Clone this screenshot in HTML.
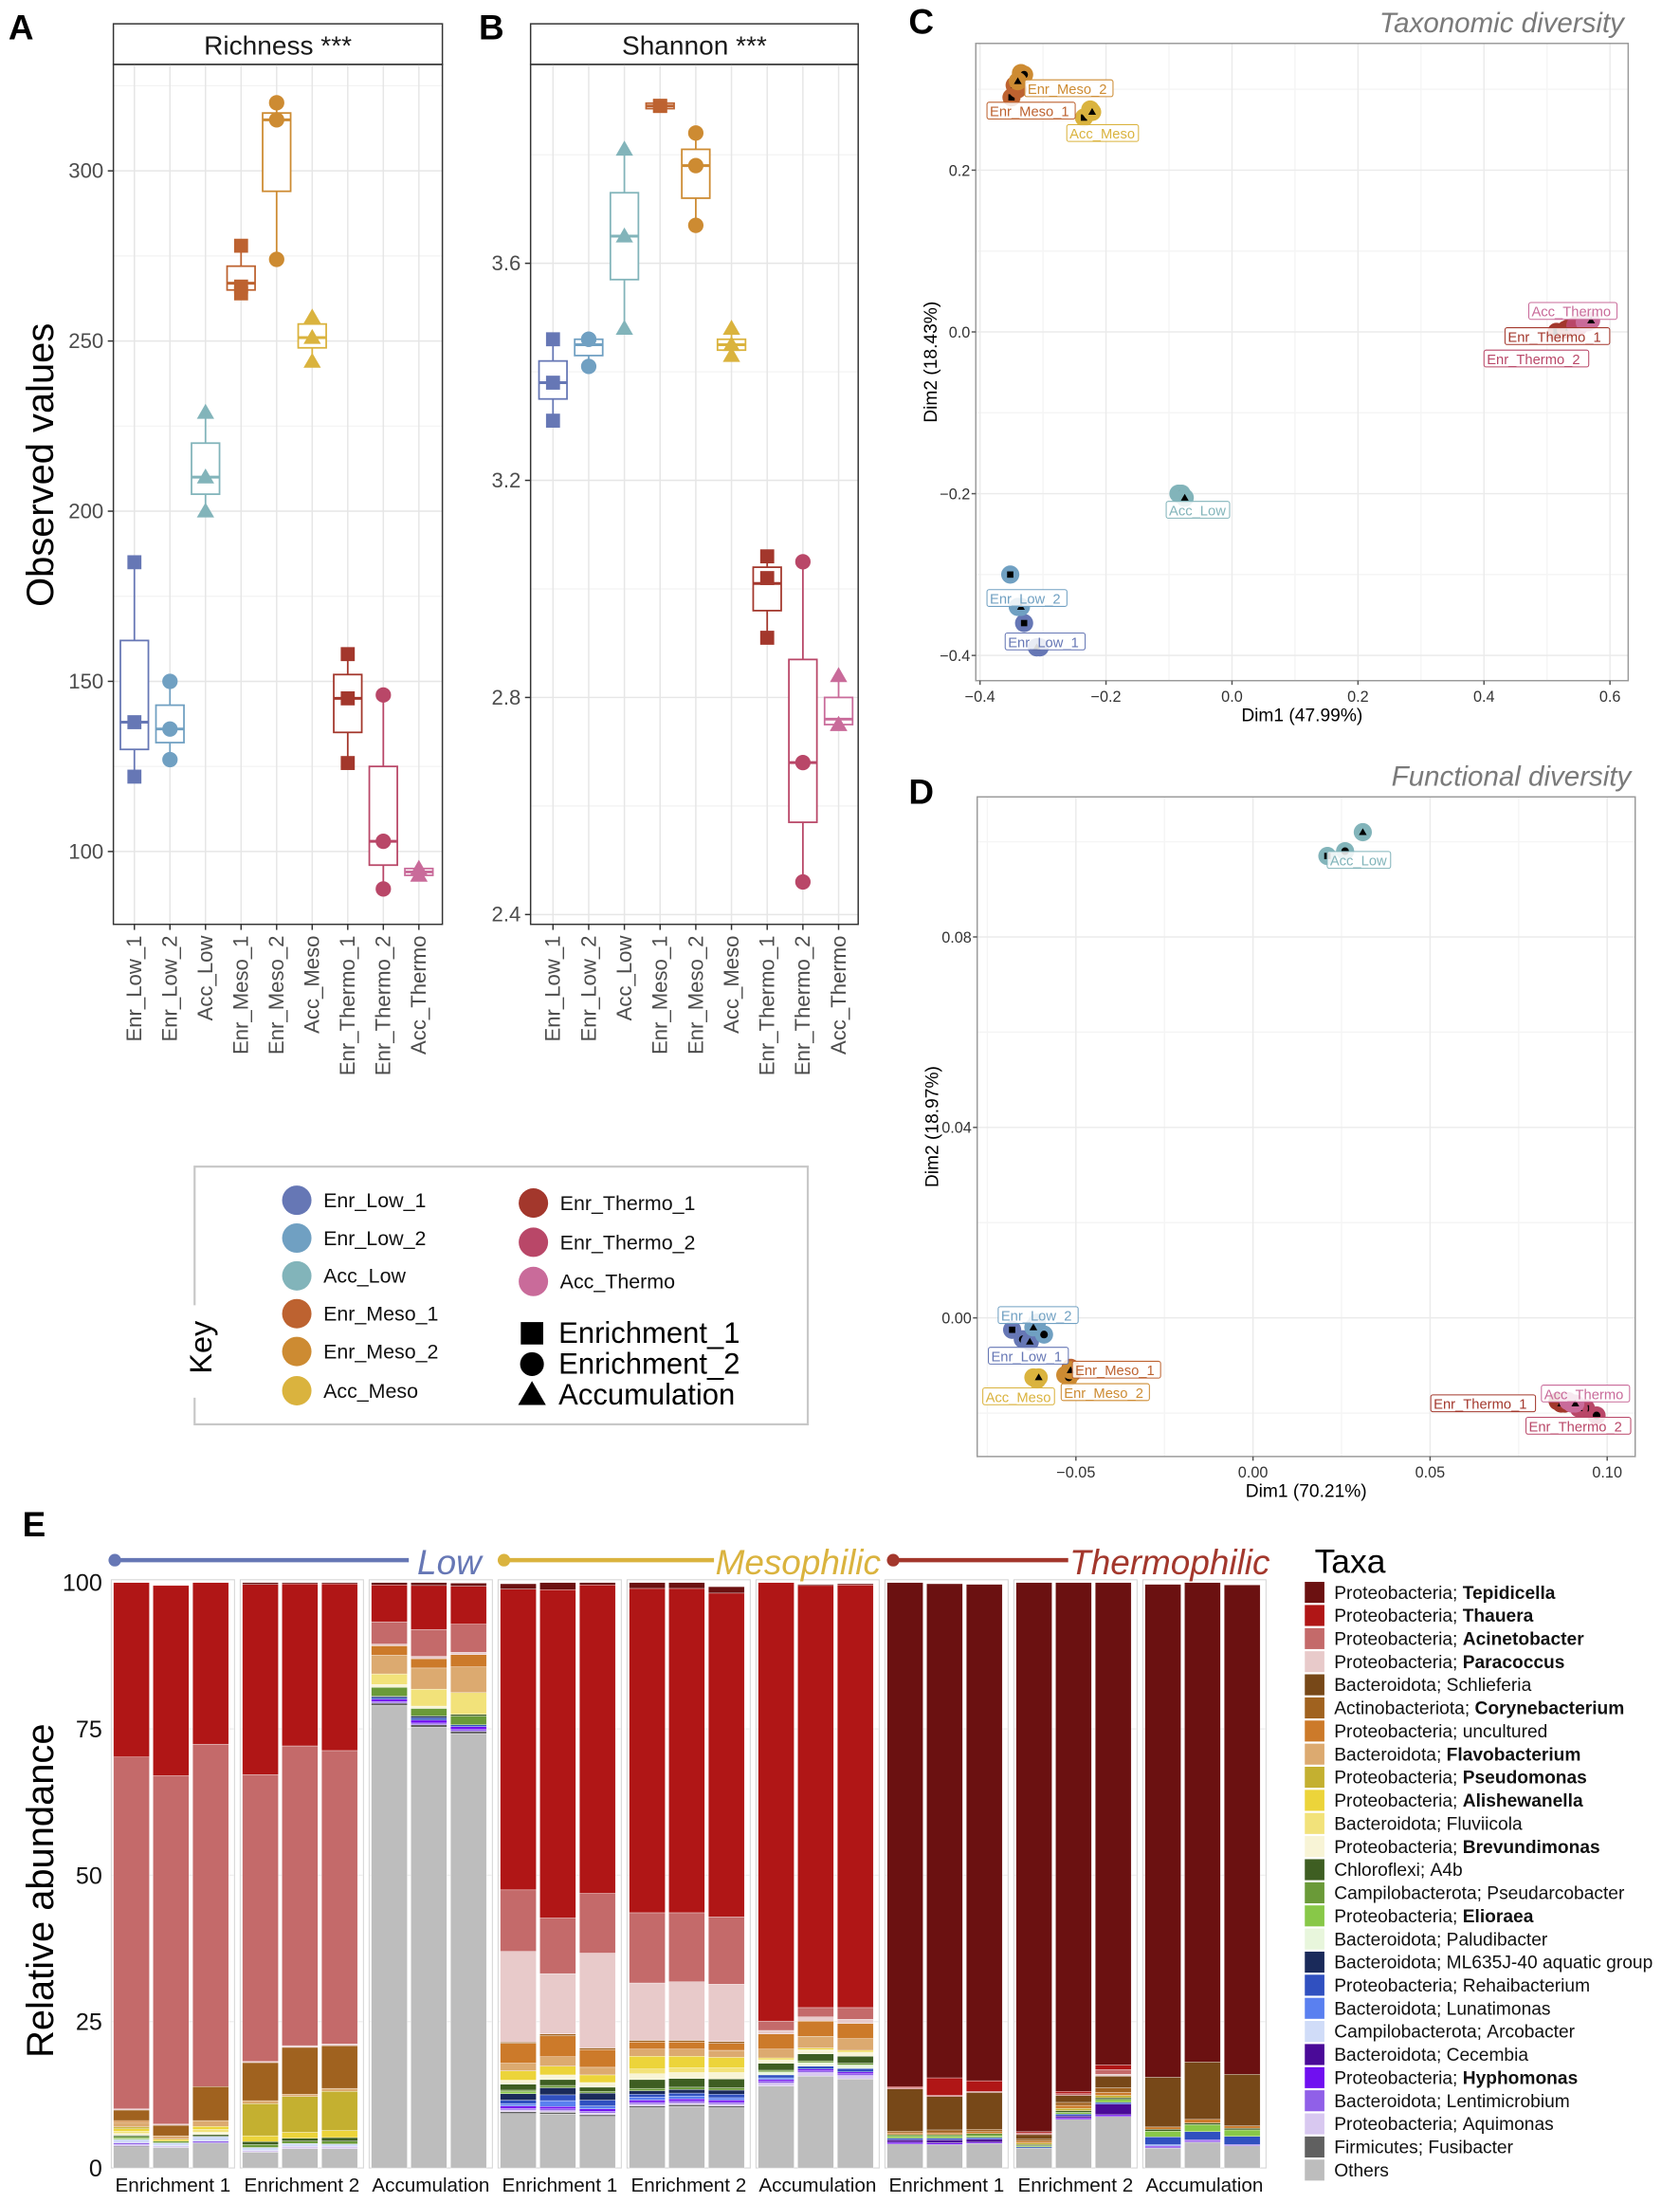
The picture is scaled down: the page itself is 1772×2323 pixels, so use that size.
<!DOCTYPE html>
<html><head><meta charset="utf-8"><style>
html,body{margin:0;padding:0;background:#fff;}
svg{display:block;}
text{font-family:"Liberation Sans",sans-serif;}
.n{font-family:"Liberation Sans Narrow","Liberation Sans",sans-serif;}
</style></head><body>
<svg id="fig" xmlns="http://www.w3.org/2000/svg" width="1772" height="2323" viewBox="0 0 1200 1573" preserveAspectRatio="none">
<rect x="0" y="0" width="1200" height="1573" fill="#fff"/>
<text x="6" y="28" font-size="25" font-weight="bold">A</text>
<text x="342" y="28" font-size="25" font-weight="bold">B</text>
<text x="649" y="24" font-size="25" font-weight="bold">C</text>
<text x="649" y="574" font-size="25" font-weight="bold">D</text>
<text x="16" y="1097" font-size="25" font-weight="bold">E</text>
</svg>
<script>
// ---------- DATA ----------
const groups = ["Enr_Low_1","Enr_Low_2","Acc_Low","Enr_Meso_1","Enr_Meso_2","Acc_Meso","Enr_Thermo_1","Enr_Thermo_2","Acc_Thermo"];
const groupShapes = ["square","circle","triangle","square","circle","triangle","square","circle","triangle"];
const richnessPoints = [[185,138,122],[150,136,127],[229,210,200],[278,266,264],[320,315,274],[257,251,244],[158,145,126],[146,103,89],[95,93,93]];
const richnessBox = [[130,138,162],[132,136,143],[205,210,220],[265,267,272],[294,315,317],[248,251,255],[135,145,152],[96,103,125],[93,94,95]];
const richnessTicks = [100,150,200,250,300];
const shannonPoints = [[3.46,3.38,3.31],[3.46,3.46,3.41],[3.81,3.65,3.48],[3.89,3.89,3.89],[3.84,3.78,3.67],[3.48,3.45,3.43],[3.06,3.02,2.91],[3.05,2.68,2.46],[2.84,2.75,2.75]];
const shannonBox = [[3.35,3.38,3.42],[3.43,3.45,3.46],[3.57,3.65,3.73],[3.885,3.89,3.895],[3.72,3.78,3.81],[3.44,3.45,3.46],[2.96,3.01,3.04],[2.57,2.68,2.87],[2.75,2.76,2.80]];
const shannonTicks = [2.4,2.8,3.2,3.6];
const taxPcoaX = [[-0.33,-0.305,-0.31],[-0.352,-0.34,-0.335],[-0.085,-0.08,-0.075],[-0.35,-0.34,-0.345],[-0.335,-0.33,-0.34],[-0.235,-0.225,-0.222],[0.515,0.53,0.535],[0.545,0.55,0.555],[0.56,0.565,0.57]];
const taxPcoaY = [[-0.36,-0.39,-0.39],[-0.30,-0.34,-0.34],[-0.20,-0.20,-0.205],[0.29,0.30,0.305],[0.32,0.318,0.31],[0.265,0.275,0.272],[0.0,0.003,0.005],[0.008,0.006,0.01],[0.012,0.012,0.014]];
const taxTicksX = [-0.4,-0.2,0.0,0.2,0.4,0.6];
const taxTicksY = [-0.4,-0.2,0.0,0.2];
const funPcoaX = [[-0.068,-0.065,-0.063],[-0.061,-0.059,-0.062],[0.021,0.026,0.031],[-0.0515,-0.052,-0.051],[-0.053,-0.052,-0.0515],[-0.062,-0.061,-0.0605],[0.086,0.088,0.087],[0.094,0.097,0.092],[0.089,0.090,0.091]];
const funPcoaY = [[-0.0025,-0.0045,-0.005],[-0.001,-0.0035,-0.002],[0.097,0.098,0.102],[-0.0105,-0.012,-0.0115],[-0.012,-0.0125,-0.011],[-0.0125,-0.013,-0.0125],[-0.0175,-0.018,-0.018],[-0.019,-0.0205,-0.019],[-0.0175,-0.018,-0.018]];
const funTicksX = [-0.05,0.00,0.05,0.10];
const funTicksY = [0.00,0.04,0.08];
const taxaNames = ["Tepidicella","Thauera","Acinetobacter","Paracoccus","Schlieferia","Corynebacterium","uncultured","Flavobacterium","Pseudomonas","Alishewanella","Fluviicola","Brevundimonas","A4b","Pseudarcobacter","Elioraea","Paludibacter","ML635J-40 aquatic group","Rehaibacterium","Lunatimonas","Arcobacter","Cecembia","Hyphomonas","Lentimicrobium","Aquimonas","Fusibacter","Others"];
const taxaPhyla = ["Proteobacteria","Proteobacteria","Proteobacteria","Proteobacteria","Bacteroidota","Actinobacteriota","Proteobacteria","Bacteroidota","Proteobacteria","Proteobacteria","Bacteroidota","Proteobacteria","Chloroflexi","Campilobacterota","Proteobacteria","Bacteroidota","Bacteroidota","Proteobacteria","Bacteroidota","Campilobacterota","Bacteroidota","Proteobacteria","Bacteroidota","Proteobacteria","Firmicutes",""];
const taxaBold = [1,1,1,1,0,1,0,1,1,1,0,1,0,0,1,0,0,0,0,0,0,1,0,0,0,0];
const sampleGroups = ["Enrichment 1","Enrichment 2","Accumulation","Enrichment 1","Enrichment 2","Accumulation","Enrichment 1","Enrichment 2","Accumulation"];
const abundance = [
[0,29.8,60.1,.2,0,1.8,.3,.8,.3,.4,.4,.3,.2,.3,.2,0,0,0,0,.6,0,0,.3,.3,.2,3.5],
[0,32.5,59.5,.2,0,1.8,0,.6,0,.3,0,0,0,.3,0,0,0,0,0,.5,0,0,0,.3,0,3.5],
[0,27.6,58.5,0,0,5.8,0,1,0,.5,.5,.4,.3,0,0,0,0,0,0,.8,0,0,.3,0,0,4.3],
[.3,32.5,49,.2,0,6.5,0,.5,5.5,1,0,0,.5,.5,0,0,0,0,0,.5,0,0,0,.3,0,2.7],
[.2,27.7,51.2,.3,0,8,0,.4,6.1,1,0,0,.5,.4,0,0,0,0,0,.5,0,0,0,.4,0,3.3],
[.2,28.5,50.1,.3,0,7.3,0,.5,6.7,1.2,0,0,.6,.5,0,0,0,0,0,.4,0,0,0,.4,0,3.3],
[.5,6.3,3.8,.3,0,0,1.6,3.2,0,0,1.8,.5,0,1.5,0,0,.2,.3,0,0,0,.4,.3,0,.4,79],
[.6,7.5,4.6,.4,0,0,1.6,3.6,0,0,2.9,.4,0,1.3,0,0,.3,.4,0,0,0,.5,.3,0,.4,75.3],
[.5,6.5,4.8,.4,0,0,2.1,4.4,0,0,3.7,0,.3,1.5,0,0,0,.3,0,0,0,.5,.3,0,.4,74.2],
[.9,51.4,10.5,15.5,0,.2,3.4,1.3,0,1.6,0,.7,1,.3,.3,0,1.1,.6,.4,0,0,.4,.3,.3,.3,9.3],
[1.2,56.1,9.5,10.3,0,.3,3.6,1.6,0,1.5,0,.8,1,.4,0,0,1.2,1,1,0,0,.4,.3,.3,.3,9.2],
[.8,52.7,10.2,16.2,0,.3,3,1.3,0,1.3,0,.8,.7,.3,0,0,1.2,1,.5,0,0,.4,.3,.3,.3,8.8],
[1,55.4,12,9.8,0,.3,1.2,1.2,0,2.2,.8,1,1.5,.4,0,0,.6,.5,.5,0,0,.4,.3,.3,.3,10.3],
[1.2,55.4,11.8,10,0,.3,1.2,1.2,0,2,.8,1,1.5,.4,0,0,.6,.5,.5,0,0,.4,.3,.3,.3,10.5],
[1.1,55.3,11.5,9.8,0,.3,1.2,1.2,0,1.8,.8,1.1,1.5,.4,0,0,.7,.6,.4,0,0,.4,.3,.3,.3,10.3],
[.3,75.2,1.6,.6,0,0,2.6,1.5,0,.3,0,.6,1.2,.3,0,.5,0,.5,.3,0,0,.3,.3,.5,0,14],
[.2,72.1,1.6,.7,0,0,2.6,2,0,.3,0,.7,1.2,.3,0,.6,0,.5,0,0,0,.3,.3,.6,0,15.7],
[.2,72.2,2,.7,0,0,2.6,2,0,.3,0,.7,1.2,.3,0,.6,0,.6,0,0,0,.3,.3,.6,0,15.2],
[86.1,.2,.2,0,7.2,.3,.3,0,0,0,0,0,0,.3,.3,0,0,.3,0,0,.4,.3,0,0,0,4.1],
[84.4,3,.2,0,5.7,.5,.3,0,0,0,0,0,0,.3,.3,0,0,.3,0,0,.5,.3,0,0,0,4],
[84.8,1.8,.2,0,6.3,.4,.3,0,0,0,0,0,0,.4,.3,0,0,.3,0,0,.5,.2,0,0,0,4.2],
[94,.2,.3,0,.8,.3,.3,0,.3,0,0,0,.2,0,.2,0,0,.2,0,0,0,0,0,0,0,3.4],
[87.3,.4,.3,0,1.2,.5,.5,0,.4,0,0,0,.3,0,.3,0,0,.3,0,0,.3,.3,0,0,0,8.3],
[82.4,.8,.8,.3,2,.8,.5,0,.4,0,0,0,.3,0,.5,0,0,.3,0,0,1.8,.3,0,0,0,8.8],
[84.2,0,0,0,8.5,0,.4,0,0,0,0,0,.3,0,1,0,0,1.3,.2,0,0,.2,.2,0,0,3.4],
[82.1,0,0,0,9.8,0,.6,0,0,0,0,0,.3,0,1.2,0,0,1.4,0,0,0,.2,.2,0,0,4.4],
[83.6,0,0,0,8.8,0,.4,0,0,0,0,0,.3,0,1.1,0,0,1.4,0,0,0,0,.2,0,0,3.8]
];
const yTicksE = [0,25,50,75,100];

// ---------- STYLE ----------
const gcol = ["#6677b5","#70a0c2","#82b4ba","#bd6230","#cd8b32","#dab33e","#a3372c","#b94768","#c96b9a"];
const tcol = ["#6b1111","#b01616","#c46a6a","#e8caca","#774818","#a0621f","#cc7a2a","#dcaa70","#c4b030","#ecd43a","#f2e27a","#f8f4d6","#3e5e22","#6a9a38","#88c848","#e8f6dc","#1a2a5a","#3050c0","#5a80f0","#d0dcf8","#4a0a98","#7010f0","#9060e8","#d8c8f0","#606060","#bdbdbd"];
const NS="http://www.w3.org/2000/svg";
const svg=document.getElementById('fig');
function mk(tag,attrs,parent){const e=document.createElementNS(NS,tag);for(const k in attrs)e.setAttribute(k,attrs[k]);(parent||svg).appendChild(e);return e;}
function shape(kind,cx,cy,s,fill,parent){
  let e;
  if(kind==="square") e=mk('rect',{x:cx-s/2,y:cy-s/2,width:s,height:s,fill:fill},parent);
  else if(kind==="circle") e=mk('circle',{cx:cx,cy:cy,r:s/2+0.5,fill:fill},parent);
  else e=mk('polygon',{points:`${cx},${cy-s*0.62} ${cx-s*0.62},${cy+s*0.45} ${cx+s*0.62},${cy+s*0.45}`,fill:fill},parent);
  return e;
}

// ---------- PANELS A & B ----------
function boxPanel(cfg){
  const g=mk('g',{});
  
  
  const {x0,x1,y0,y1,yf,catX}=cfg;
  // strip
  const strip=mk('rect',{x:x0,y:17,width:x1-x0,height:y0-17,fill:'#fff',stroke:'#333','stroke-width':1},g);
  
  
  const st=mk('text',{x:(x0+x1)/2,y:39,'font-size':19,'text-anchor':'middle',fill:'#1a1a1a'},g);
  st.textContent=cfg.title;
  
  
  // grid
  cfg.minor.forEach(v=>{const y=yf(v);if(y>y0&&y<y1)mk('line',{x1:x0,x2:x1,y1:y,y2:y,stroke:'#f2f2f2','stroke-width':0.8},g);});
  cfg.ticks.forEach(v=>{const y=yf(v);mk('line',{x1:x0,x2:x1,y1:y,y2:y,stroke:'#e6e6e6','stroke-width':1},g);});
  groups.forEach((n,i)=>mk('line',{x1:catX(i),x2:catX(i),y1:y0,y2:y1,stroke:'#e6e6e6','stroke-width':1},g));
  // boxes
  groups.forEach((n,i)=>{
    const cx=catX(i),c=gcol[i],b=cfg.box[i],pts=cfg.pts[i];
    const mx=Math.max(...pts),mn=Math.min(...pts);
    const wl=mk('line',{x1:cx,x2:cx,y1:yf(mx),y2:yf(mn),stroke:c,'stroke-width':1.2},g);
    
    
    const bx=mk('rect',{x:cx-10,y:yf(b[2]),width:20,height:Math.max(1,yf(b[0])-yf(b[2])),fill:'#fff',stroke:c,'stroke-width':1.2},g);
    
    
    mk('line',{x1:cx-10,x2:cx+10,y1:yf(b[1]),y2:yf(b[1]),stroke:c,'stroke-width':2},g);
    pts.forEach((v,k)=>{
      const p=shape(groupShapes[i],cx,yf(v),10,c,g);
      
      
    });
  });
  const fr=mk('rect',{x:x0,y:y0,width:x1-x0,height:y1-y0,fill:'none',stroke:'#333','stroke-width':1},g);
  
  
  cfg.ticks.forEach(v=>{
    const y=yf(v);
    mk('line',{x1:x0-4,x2:x0,y1:y,y2:y,stroke:'#333'},g);
    const t=mk('text',{x:x0-7,y:y+5,'font-size':15,'text-anchor':'end',fill:'#4d4d4d'},g);
    t.textContent=cfg.fmt(v);
    
    
  });
  groups.forEach((n,i)=>{
    const cx=catX(i);
    mk('line',{x1:cx,x2:cx,y1:y1,y2:y1+4,stroke:'#333'},g);
    const t=mk('text',{x:cx+5,y:y1+8,'font-size':15,'text-anchor':'end',fill:'#4d4d4d',transform:`rotate(-90 ${cx+5} ${y1+8})`},g);
    t.textContent=n;
    
    
  });
}
const yA=v=>608-(v-100)*2.43;
const yB=v=>653-(v-2.4)*387.5;
boxPanel({name:'richness-boxplot',x0:81,x1:316,y0:46,y1:660,yf:yA,catX:i=>96+i*25.4,title:'Richness ***',ticks:richnessTicks,minor:[125,175,225,275,325],box:richnessBox,pts:richnessPoints,fmt:v=>String(v)});
boxPanel({name:'shannon-boxplot',x0:379,x1:613,y0:46,y1:660,yf:yB,catX:i=>395+i*25.5,title:'Shannon ***',ticks:shannonTicks,minor:[2.6,3.0,3.4,3.8],box:shannonBox,pts:shannonPoints,fmt:v=>v.toFixed(1)});
const yt=mk('text',{x:38,y:332,'font-size':27,'text-anchor':'middle',fill:'#000',transform:'rotate(-90 38 332)'});
yt.textContent='Observed values';



// ---------- KEY LEGEND ----------
const key=mk('g',{});


mk('rect',{x:139,y:833,width:438,height:184,fill:'#fff',stroke:'#c8c8c8','stroke-width':1.5},key);
mk('rect',{x:133,y:932,width:12,height:66,fill:'#fff'},key);
const kt=mk('text',{x:151,y:962,'font-size':22,'text-anchor':'middle',fill:'#000',transform:'rotate(-90 151 962)'},key);
kt.textContent='Key';


const keyPos=[[212,857],[212,884],[212,911],[212,938],[212,965],[212,993],[381,859],[381,887],[381,915]];
groups.forEach((n,i)=>{
  const [x,y]=keyPos[i];
  const c=mk('circle',{cx:x,cy:y,r:10.5,fill:gcol[i]},key);
  
  
  const t=mk('text',{x:x+19,y:y+5,'font-size':14.5,fill:'#111','class':'n'},key);
  t.textContent=n;
  
  
});
[["square","Enrichment_1",952],["circle","Enrichment_2",974],["triangle","Accumulation",996]].forEach(([s,l,y])=>{
  const p=shape(s,380,y,16,'#000',key);
  
  
  const t=mk('text',{x:399,y:y+7,'font-size':21,fill:'#000','class':'n'},key);
  t.textContent=l;
  
  
});

// ---------- PCoA C & D ----------
function pcoa(cfg){
  const g=mk('g',{});
  
  
  const {x0,x1,y0,y1,xf,yf}=cfg;
  const tt=mk('text',{x:x1-3,y:y0-8,'font-size':20,'font-style':'italic','text-anchor':'end',fill:'#7a7a7a'},g);
  tt.textContent=cfg.title;
  
  
  cfg.minorX.forEach(v=>mk('line',{x1:xf(v),x2:xf(v),y1:y0,y2:y1,stroke:'#f5f5f5'},g));
  cfg.minorY.forEach(v=>mk('line',{x1:x0,x2:x1,y1:yf(v),y2:yf(v),stroke:'#f5f5f5'},g));
  cfg.tx.forEach(v=>mk('line',{x1:xf(v),x2:xf(v),y1:y0,y2:y1,stroke:'#ebebeb'},g));
  cfg.ty.forEach(v=>mk('line',{x1:x0,x2:x1,y1:yf(v),y2:yf(v),stroke:'#ebebeb'},g));
  mk('rect',{x:x0,y:y0,width:x1-x0,height:y1-y0,fill:'none',stroke:'#9a9a9a','stroke-width':1},g);
  cfg.tx.forEach(v=>{
    mk('line',{x1:xf(v),x2:xf(v),y1:y1,y2:y1+3,stroke:'#555'},g);
    const t=mk('text',{x:xf(v),y:y1+15,'font-size':11,'text-anchor':'middle',fill:'#333'},g);
    t.textContent=(v<0?'\u2212':'')+Math.abs(v).toFixed(cfg.dx);
    
    
  });
  cfg.ty.forEach(v=>{
    mk('line',{x1:x0-3,x2:x0,y1:yf(v),y2:yf(v),stroke:'#555'},g);
    const t=mk('text',{x:x0-4,y:yf(v)+4,'font-size':11,'text-anchor':'end',fill:'#333'},g);
    t.textContent=(v<0?'\u2212':'')+Math.abs(v).toFixed(cfg.dy);
    
    
  });
  const xt=mk('text',{x:(x0+x1)/2,y:y1+29,'font-size':13,'text-anchor':'middle',fill:'#000'},g);
  xt.textContent=cfg.xlab;
  
  
  const yl=mk('text',{x:x0-28,y:(y0+y1)/2,'font-size':13,'text-anchor':'middle',fill:'#000',transform:`rotate(-90 ${x0-28} ${(y0+y1)/2})`},g);
  yl.textContent=cfg.ylab;
  
  
  groups.forEach((n,i)=>{
    cfg.X[i].forEach((v,k)=>{
      const px=xf(v),py=yf(cfg.Y[i][k]);
      const c=mk('circle',{cx:px,cy:py,r:6.5,fill:gcol[i]},g);
      
      
      shape(['square','circle','triangle'][k],px,py,4.5,'#000',g);
    });
  });
  groups.forEach((n,i)=>{
    const [lx,ly]=cfg.labels[i];
    const w=n.length*5.9+4;
    const lg=mk('g',{},g);
    
    
    mk('rect',{x:lx,y:ly,width:w,height:12,rx:1.5,fill:'#fff','fill-opacity':0.85,stroke:gcol[i],'stroke-width':0.7},lg);
    const t=mk('text',{x:lx+2,y:ly+10,'font-size':10,fill:gcol[i]},lg);
    t.textContent=n;
  });
}
pcoa({name:'taxonomic-pcoa',x0:697,x1:1163,y0:31,y1:486,xf:v=>880+v*450,yf:v=>237-v*577.5,title:'Taxonomic diversity',
  tx:taxTicksX,ty:taxTicksY,minorX:[-0.3,-0.1,0.1,0.3,0.5],minorY:[-0.3,-0.1,0.1,0.3],dx:1,dy:1,
  xlab:'Dim1 (47.99%)',ylab:'Dim2 (18.43%)',X:taxPcoaX,Y:taxPcoaY,
  labels:[[718,452],[705,421],[833,358],[705,73],[732,57],[762,89],[1075,234],[1060,250],[1092,216]]});
pcoa({name:'functional-pcoa',x0:698,x1:1168,y0:569,y1:1040,xf:v=>895+v*2530,yf:v=>941-v*3400,title:'Functional diversity',
  tx:funTicksX,ty:funTicksY,minorX:[-0.075,-0.025,0.025,0.075],minorY:[-0.02,0.02,0.06,0.10],dx:2,dy:2,
  xlab:'Dim1 (70.21%)',ylab:'Dim2 (18.97%)',X:funPcoaX,Y:funPcoaY,
  labels:[[706,962],[713,933],[948,608],[766,972],[758,988],[702,991],[1022,996],[1090,1012],[1101,989]]});

// ---------- PANEL E ----------
const gE=mk('g',{});


const yE=v=>1548-v*4.18;
const panelX=p=>80+p*92.1;
for(let p=0;p<9;p++){
  const x=panelX(p);
  mk('rect',{x:x-0.5,y:yE(100)-2,width:88,height:yE(0)-yE(100)+2,fill:'none',stroke:'#d4d4d4','stroke-width':0.7},gE);
  [25,50,75].forEach(v=>mk('line',{x1:x,x2:x+87,y1:yE(v),y2:yE(v),stroke:'#f0f0f0'},gE));
  const t=mk('text',{x:x+43.5,y:1565,'font-size':14,'text-anchor':'middle',fill:'#111','class':'n'},gE);
  t.textContent=sampleGroups[p];
  
  
}
abundance.forEach((row,b)=>{
  const p=Math.floor(b/3),j=b%3;
  const x=panelX(p)+1+j*28.3;
  const bar=mk('g',{},gE);
  
  
  let cum=0;
  for(let t=row.length-1;t>=0;t--){
    const v=row[t];
    if(v<=0)continue;
    const top=Math.min(100,cum+v);
    const r=mk('rect',{x:x,y:yE(top),width:25.7,height:Math.max(0,yE(cum)-yE(top)),fill:tcol[t],stroke:'#fff','stroke-width':0.25},bar);
    
    
    cum=top;
  }
});
yTicksE.forEach(v=>{
  const t=mk('text',{x:73,y:yE(v)+6,'font-size':17,'text-anchor':'end',fill:'#111','class':'n'},gE);
  t.textContent=String(v);
  
  
});
const ytE=mk('text',{x:38,y:1350,'font-size':27,'text-anchor':'middle',fill:'#000',transform:'rotate(-90 38 1350)'},gE);
ytE.textContent='Relative abundance';


[["Low","#6677b5",82,292,298],["Mesophilic","#dab33e",360,510,511],["Thermophilic","#a3372c",638,763,764]].forEach(([l,c,a,b2,tx])=>{
  const hg=mk('g',{},gE);
  
  
  mk('line',{x1:a,x2:b2,y1:1114,y2:1114,stroke:c,'stroke-width':3},hg);
  mk('circle',{cx:a,cy:1114,r:4.5,fill:c},hg);
  const t=mk('text',{x:tx,y:1124,'font-size':25,'font-style':'italic',fill:c,'class':'n'},hg);
  t.textContent=l;
});
// taxa legend
const tl=mk('g',{});


const tlt=mk('text',{x:939,y:1123,'font-size':24,fill:'#000','class':'n'},tl);
tlt.textContent='Taxa';


taxaNames.forEach((n,i)=>{
  const y=1137+i*16.5;
  const sw=mk('rect',{x:932,y:y-7.5,width:14,height:15,fill:tcol[i]},tl);
  
  
  const t=mk('text',{x:953,y:y+4.5,'font-size':13,fill:'#111','class':'n'},tl);
  
  
  if(taxaPhyla[i]){
    const a=mk('tspan',{},t);a.textContent=taxaPhyla[i]+'; ';
    const b=mk('tspan',{'font-weight':taxaBold[i]?'bold':'normal'},t);b.textContent=n;
  } else t.textContent=n;
});
</script>
</body></html>
